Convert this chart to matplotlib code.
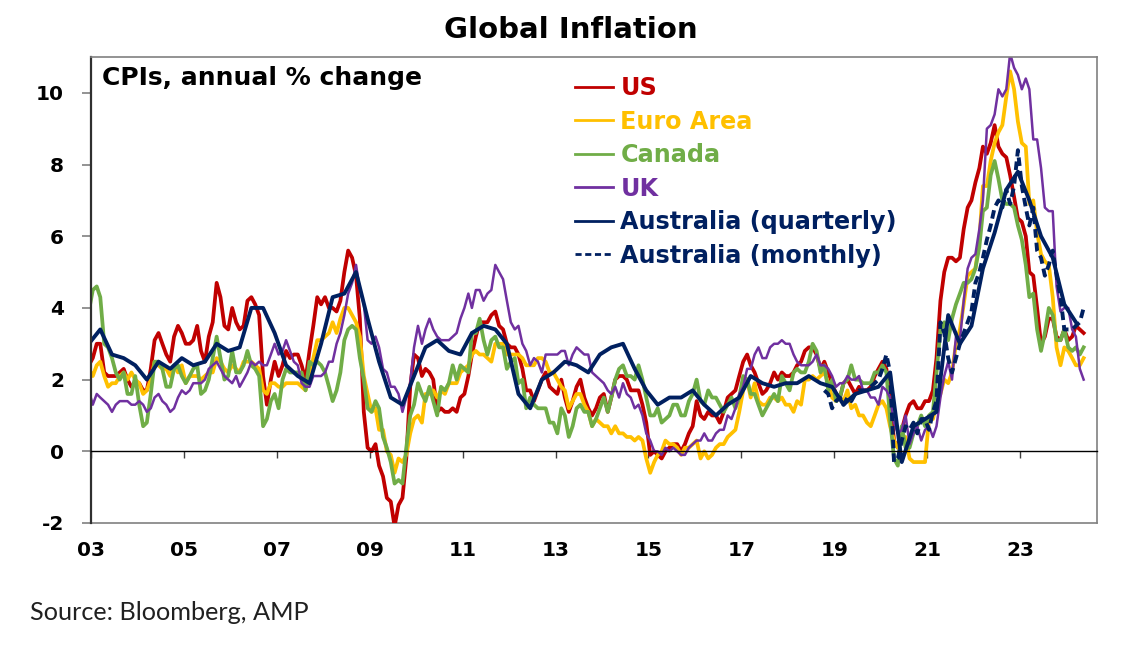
import numpy as np
import pandas as pd
import matplotlib
matplotlib.use('Agg')
import matplotlib.pyplot as plt
import matplotlib.dates as mdates

plt.rcParams['axes.unicode_minus'] = False

# CPI, annual % change. Monthly series run Dec 2002 - May 2024
us_cpi = [2.4,
    2.6, 3.0, 3.0, 2.2, 2.1, 2.1, 2.1, 2.2, 2.3, 2.0, 1.8, 1.9,
    1.9, 1.7, 1.7, 2.3, 3.1, 3.3, 3.0, 2.7, 2.5, 3.2, 3.5, 3.3,
    3.0, 3.0, 3.1, 3.5, 2.8, 2.5, 3.2, 3.6, 4.7, 4.3, 3.5, 3.4,
    4.0, 3.6, 3.4, 3.5, 4.2, 4.3, 4.1, 3.8, 2.1, 1.3, 2.0, 2.5,
    2.1, 2.4, 2.8, 2.6, 2.7, 2.7, 2.4, 2.0, 2.8, 3.5, 4.3, 4.1,
    4.3, 4.0, 4.0, 3.9, 4.2, 5.0, 5.6, 5.4, 4.9, 3.7, 1.1, 0.1,
    0.0, 0.2, -0.4, -0.7, -1.3, -1.4, -2.1, -1.5, -1.3, -0.2, 1.8, 2.7,
    2.6, 2.1, 2.3, 2.2, 2.0, 1.1, 1.2, 1.1, 1.1, 1.2, 1.1, 1.5,
    1.6, 2.1, 2.7, 3.2, 3.6, 3.6, 3.6, 3.8, 3.9, 3.5, 3.4, 3.0,
    2.9, 2.9, 2.7, 2.3, 1.7, 1.7, 1.4, 1.7, 2.0, 2.2, 1.8, 1.7,
    1.6, 2.0, 1.5, 1.1, 1.4, 1.8, 2.0, 1.5, 1.2, 1.0, 1.2, 1.5,
    1.6, 1.1, 1.5, 2.0, 2.1, 2.1, 2.0, 1.7, 1.7, 1.7, 1.3, 0.8,
    -0.1, 0.0, -0.1, -0.2, 0.0, 0.1, 0.2, 0.2, 0.0, 0.2, 0.5, 0.7,
    1.4, 1.0, 0.9, 1.1, 1.0, 1.0, 0.8, 1.1, 1.5, 1.6, 1.7, 2.1,
    2.5, 2.7, 2.4, 2.2, 1.9, 1.6, 1.7, 1.9, 2.2, 2.0, 2.2, 2.1,
    2.1, 2.2, 2.4, 2.5, 2.8, 2.9, 2.9, 2.7, 2.3, 2.5, 2.2, 1.9,
    1.6, 1.5, 1.9, 2.0, 1.8, 1.6, 1.8, 1.7, 1.7, 1.8, 2.1, 2.3,
    2.5, 2.3, 1.5, 0.3, 0.1, 0.6, 1.0, 1.3, 1.4, 1.2, 1.2, 1.4,
    1.4, 1.7, 2.6, 4.2, 5.0, 5.4, 5.4, 5.3, 5.4, 6.2, 6.8, 7.0,
    7.5, 7.9, 8.5, 8.3, 8.6, 9.1, 8.5, 8.3, 8.2, 7.7, 7.1, 6.5,
    6.4, 6.0, 5.0, 4.9, 4.0, 3.0, 3.2, 3.7, 3.7, 3.2, 3.1, 3.4,
    3.1, 3.2, 3.5, 3.4, 3.3]

euro_cpi = [2.3,
    2.1, 2.4, 2.5, 2.1, 1.8, 1.9, 1.9, 2.1, 2.2, 2.0, 2.2, 2.0,
    1.9, 1.6, 1.7, 2.0, 2.5, 2.4, 2.3, 2.3, 2.1, 2.4, 2.2, 2.4,
    1.9, 2.1, 2.1, 2.1, 2.0, 2.1, 2.2, 2.2, 2.6, 2.5, 2.3, 2.2,
    2.4, 2.3, 2.2, 2.5, 2.5, 2.5, 2.4, 2.3, 1.7, 1.6, 1.9, 1.9,
    1.8, 1.8, 1.9, 1.9, 1.9, 1.9, 1.8, 1.7, 2.1, 2.6, 3.1, 3.1,
    3.2, 3.3, 3.6, 3.3, 3.7, 4.0, 4.0, 3.8, 3.6, 3.2, 2.1, 1.6,
    1.1, 1.2, 0.6, 0.6, 0.0, -0.1, -0.6, -0.2, -0.3, -0.1, 0.5, 0.9,
    1.0, 0.8, 1.6, 1.6, 1.7, 1.5, 1.7, 1.6, 1.9, 1.9, 1.9, 2.2,
    2.3, 2.4, 2.7, 2.8, 2.7, 2.7, 2.6, 2.5, 3.0, 3.0, 3.0, 2.7,
    2.7, 2.7, 2.7, 2.6, 2.4, 2.4, 2.4, 2.6, 2.6, 2.5, 2.2, 2.2,
    2.0, 1.8, 1.7, 1.2, 1.4, 1.6, 1.6, 1.3, 1.1, 0.7, 0.9, 0.8,
    0.7, 0.7, 0.5, 0.7, 0.5, 0.5, 0.4, 0.4, 0.3, 0.4, 0.3, -0.2,
    -0.6, -0.3, -0.1, 0.0, 0.3, 0.2, 0.2, 0.1, -0.1, 0.1, 0.1, 0.2,
    0.3, -0.2, 0.0, -0.2, -0.1, 0.1, 0.2, 0.2, 0.4, 0.5, 0.6, 1.1,
    1.7, 2.0, 1.5, 1.9, 1.4, 1.3, 1.3, 1.5, 1.5, 1.4, 1.5, 1.3,
    1.3, 1.1, 1.4, 1.3, 2.0, 2.0, 2.1, 2.0, 2.1, 2.2, 1.9, 1.5,
    1.4, 1.5, 1.4, 1.7, 1.2, 1.3, 1.0, 1.0, 0.8, 0.7, 1.0, 1.3,
    1.4, 1.2, 0.7, 0.3, 0.1, 0.3, 0.4, -0.2, -0.3, -0.3, -0.3, -0.3,
    0.9, 0.9, 1.3, 1.6, 2.0, 1.9, 2.2, 3.0, 3.4, 4.1, 4.9, 5.0,
    5.1, 5.9, 7.4, 7.4, 8.1, 8.6, 8.9, 9.1, 9.9, 10.6, 10.1, 9.2,
    8.6, 8.5, 6.9, 7.0, 6.1, 5.5, 5.3, 5.2, 4.3, 2.9, 2.4, 2.9,
    2.8, 2.6, 2.4, 2.4, 2.6]

canada_cpi = [3.9,
    4.5, 4.6, 4.3, 3.0, 2.9, 2.6, 2.2, 2.0, 2.2, 1.6, 1.6, 2.1,
    1.3, 0.7, 0.8, 1.6, 2.5, 2.5, 2.3, 1.8, 1.8, 2.3, 2.4, 2.1,
    1.9, 2.1, 2.3, 2.4, 1.6, 1.7, 2.0, 2.6, 3.2, 2.6, 2.0, 2.1,
    2.8, 2.2, 2.2, 2.4, 2.8, 2.4, 2.3, 2.1, 0.7, 0.9, 1.4, 1.6,
    1.2, 2.0, 2.3, 2.2, 2.2, 2.2, 2.2, 1.7, 2.5, 2.4, 2.5, 2.4,
    2.2, 1.8, 1.4, 1.7, 2.2, 3.1, 3.4, 3.5, 3.4, 2.6, 2.0, 1.2,
    1.1, 1.4, 1.2, 0.4, 0.1, -0.3, -0.9, -0.8, -0.9, 0.1, 1.0, 1.3,
    1.9, 1.6, 1.4, 1.8, 1.4, 1.0, 1.8, 1.7, 1.9, 2.4, 2.0, 2.4,
    2.3, 2.2, 3.3, 3.3, 3.7, 3.1, 2.7, 3.1, 3.2, 2.9, 2.9, 2.3,
    2.5, 2.6, 1.9, 2.0, 1.2, 1.5, 1.3, 1.2, 1.2, 1.2, 0.8, 0.8,
    0.5, 1.2, 1.0, 0.4, 0.7, 1.2, 1.3, 1.1, 1.1, 0.7, 0.9, 1.2,
    1.5, 1.1, 1.5, 2.0, 2.3, 2.4, 2.1, 2.1, 2.0, 2.4, 2.0, 1.5,
    1.0, 1.0, 1.2, 0.8, 0.9, 1.0, 1.3, 1.3, 1.0, 1.0, 1.4, 1.6,
    2.0, 1.4, 1.3, 1.7, 1.5, 1.5, 1.3, 1.1, 1.3, 1.5, 1.2, 1.5,
    2.1, 2.0, 1.6, 1.6, 1.3, 1.0, 1.2, 1.4, 1.6, 1.4, 2.1, 1.9,
    1.7, 2.2, 2.3, 2.2, 2.2, 2.5, 3.0, 2.8, 2.2, 2.4, 1.7, 2.0,
    1.4, 1.5, 1.9, 2.0, 2.4, 2.0, 2.0, 1.9, 1.9, 1.9, 2.2, 2.2,
    2.4, 2.2, 0.9, -0.2, -0.4, 0.7, 0.1, 0.1, 0.5, 0.7, 1.0, 0.7,
    1.0, 1.1, 2.2, 3.4, 3.6, 3.1, 3.7, 4.1, 4.4, 4.7, 4.7, 4.8,
    5.1, 5.7, 6.7, 6.8, 7.7, 8.1, 7.6, 7.0, 6.9, 6.9, 6.8, 6.3,
    5.9, 5.2, 4.3, 4.4, 3.4, 2.8, 3.3, 4.0, 3.8, 3.1, 3.1, 3.4,
    2.9, 2.8, 2.9, 2.7, 2.9]

uk_cpi = [1.7,
    1.3, 1.6, 1.5, 1.4, 1.3, 1.1, 1.3, 1.4, 1.4, 1.4, 1.3, 1.3,
    1.4, 1.3, 1.1, 1.2, 1.5, 1.6, 1.4, 1.3, 1.1, 1.2, 1.5, 1.7,
    1.6, 1.7, 1.9, 1.9, 1.9, 2.0, 2.3, 2.4, 2.5, 2.3, 2.1, 2.0,
    1.9, 2.1, 1.8, 2.0, 2.2, 2.5, 2.4, 2.5, 2.4, 2.4, 2.7, 3.0,
    2.7, 2.8, 3.1, 2.8, 2.5, 2.4, 1.9, 1.8, 1.8, 2.1, 2.1, 2.1,
    2.2, 2.5, 2.5, 3.0, 3.3, 3.8, 4.4, 4.7, 5.2, 4.5, 4.1, 3.1,
    3.0, 3.2, 2.9, 2.3, 2.2, 1.8, 1.8, 1.6, 1.1, 1.5, 1.9, 2.9,
    3.5, 3.0, 3.4, 3.7, 3.4, 3.2, 3.1, 3.1, 3.1, 3.2, 3.3, 3.7,
    4.0, 4.4, 4.0, 4.5, 4.5, 4.2, 4.4, 4.5, 5.2, 5.0, 4.8, 4.2,
    3.6, 3.4, 3.5, 3.0, 2.8, 2.4, 2.6, 2.5, 2.2, 2.7, 2.7, 2.7,
    2.7, 2.8, 2.8, 2.4, 2.7, 2.9, 2.8, 2.7, 2.7, 2.2, 2.1, 2.0,
    1.9, 1.7, 1.6, 1.8, 1.5, 1.9, 1.6, 1.5, 1.2, 1.3, 1.0, 0.5,
    0.3, 0.0, 0.0, -0.1, 0.1, 0.0, 0.1, 0.0, -0.1, -0.1, 0.1, 0.2,
    0.3, 0.3, 0.5, 0.3, 0.3, 0.5, 0.6, 0.6, 1.0, 0.9, 1.2, 1.6,
    1.8, 2.3, 2.3, 2.7, 2.9, 2.6, 2.6, 2.9, 3.0, 3.0, 3.1, 3.0,
    3.0, 2.7, 2.5, 2.4, 2.4, 2.4, 2.5, 2.7, 2.4, 2.4, 2.3, 2.1,
    1.8, 1.9, 1.9, 2.1, 2.0, 2.0, 2.1, 1.7, 1.7, 1.5, 1.5, 1.3,
    1.8, 1.7, 1.5, 0.8, 0.5, 0.6, 1.0, 0.2, 0.5, 0.7, 0.3, 0.6,
    0.7, 0.4, 0.7, 1.5, 2.1, 2.5, 2.0, 3.2, 3.1, 4.2, 5.1, 5.4,
    5.5, 6.2, 7.0, 9.0, 9.1, 9.4, 10.1, 9.9, 10.1, 11.1, 10.7, 10.5,
    10.1, 10.4, 10.1, 8.7, 8.7, 7.9, 6.8, 6.7, 6.7, 4.6, 3.9, 4.0,
    4.0, 3.4, 3.2, 2.3, 2.0]

# Australia quarterly, Dec qtr 2002 - Mar qtr 2024
aus_q_cpi = [3.0,
    3.4, 2.7, 2.6, 2.4,
    2.0, 2.5, 2.3, 2.6,
    2.4, 2.5, 3.0, 2.8,
    2.9, 4.0, 4.0, 3.3,
    2.4, 2.1, 1.9, 3.0,
    4.3, 4.4, 5.0, 3.7,
    2.5, 1.5, 1.3, 2.1,
    2.9, 3.1, 2.8, 2.7,
    3.3, 3.5, 3.4, 3.0,
    1.6, 1.2, 2.0, 2.2,
    2.5, 2.4, 2.2, 2.7,
    2.9, 3.0, 2.3, 1.7,
    1.3, 1.5, 1.5, 1.7,
    1.3, 1.0, 1.3, 1.5,
    2.1, 1.9, 1.8, 1.9,
    1.9, 2.1, 1.9, 1.8,
    1.3, 1.6, 1.7, 1.8,
    2.2, -0.3, 0.7, 0.9,
    1.1, 3.8, 3.0, 3.5,
    5.1, 6.1, 7.3, 7.8,
    7.0, 6.0, 5.4, 4.1,
    3.6]

# Australia monthly CPI indicator, Oct 2018 - May 2024
aus_m_cpi = [1.7, 1.6, 1.2,
    1.4, 1.5, 1.3, 1.5, 1.4, 1.6, 1.7, 1.7, 1.7, 1.8, 1.9, 2.0,
    2.3, 2.7, 2.2, -0.3, -0.2, 0.3, 0.7, 0.6, 0.8, 0.5, 0.9, 0.9,
    0.6, 1.1, 1.4, 3.6, 3.3, 2.6, 2.2, 2.6, 3.0, 3.3, 3.6, 3.9,
    4.7, 5.0, 5.4, 5.9, 6.3, 6.8, 7.0, 6.8, 7.3, 6.9, 7.4, 8.4,
    7.4, 6.8, 6.3, 6.8, 5.6, 5.4, 4.9, 5.2, 5.6, 4.9, 4.3, 3.4,
    3.4, 3.4, 3.5, 3.6, 4.0]

# plotted at the middle of each month
monthly_dates = pd.date_range('2002-12-01', periods=len(us_cpi), freq='MS') + pd.Timedelta(days=14)
quarterly_dates = pd.date_range('2002-12-01', periods=len(aus_q_cpi), freq='3MS') + pd.Timedelta(days=14)
aus_m_dates = pd.date_range('2018-10-01', periods=len(aus_m_cpi), freq='MS') + pd.Timedelta(days=14)

RED, YELLOW, GREEN, PURPLE, NAVY = '#C00000', '#FFC000', '#70AD47', '#7030A0', '#002060'
FONT = 'DejaVu Sans'

fig = plt.figure(figsize=(11.3, 6.49), dpi=100)
ax = fig.add_axes([91 / 1130, 1 - 523 / 649, (1097 - 91) / 1130, (523 - 57) / 649])

ax.plot(monthly_dates, us_cpi, color=RED, lw=2.7, label='US')
ax.plot(monthly_dates, euro_cpi, color=YELLOW, lw=2.7, label='Euro Area')
ax.plot(monthly_dates, canada_cpi, color=GREEN, lw=2.7, label='Canada')
ax.plot(monthly_dates, uk_cpi, color=PURPLE, lw=1.8, label='UK')
ax.plot(quarterly_dates, aus_q_cpi, color=NAVY, lw=2.8, label='Australia (quarterly)')
ax.plot(aus_m_dates, aus_m_cpi, color=NAVY, lw=2.8, ls=(0, (2.2, 1.3)),
        label='Australia (monthly)')

ax.set_ylim(-2, 11)
ax.set_xlim(pd.Timestamp('2003-01-01'), pd.Timestamp('2024-08-28'))
ax.set_yticks(np.arange(-2, 11, 2))

year_ticks = [pd.Timestamp(f'{y}-01-01') for y in range(2003, 2025, 2)]
tick_nums = mdates.date2num(year_ticks)

# category axis sits on the zero line, labels at the bottom of the frame
ax.spines['bottom'].set_position(('data', 0))
ax.spines['bottom'].set_color('black')
ax.spines['bottom'].set_linewidth(1.0)
ax.set_xticks(tick_nums)
ax.tick_params(axis='x', direction='out', length=5, width=1, color='#404040',
               labelbottom=False)

sec = ax.secondary_xaxis('bottom')
sec.set_xticks(tick_nums, [d.strftime('%y') for d in year_ticks])
sec.tick_params(length=0, pad=13)
sec.spines['bottom'].set_color('#808080')
sec.spines['bottom'].set_linewidth(1.2)
for lab in sec.get_xticklabels():
    lab.set_fontfamily(FONT)
    lab.set_fontweight('bold')
    lab.set_fontsize(14.5)

ax.spines['left'].set_color('#303030')
ax.spines['left'].set_linewidth(1.6)
for side in ['top', 'right']:
    ax.spines[side].set_color('#808080')
    ax.spines[side].set_linewidth(1.2)
ax.tick_params(axis='y', direction='out', length=6.5, width=1.2, color='#808080', pad=13)
for lab in ax.get_yticklabels():
    lab.set_fontfamily(FONT)
    lab.set_fontweight('bold')
    lab.set_fontsize(14.5)

leg = ax.legend(loc='upper left', bbox_to_anchor=(575 / 1130, 1 - 76 / 649),
                bbox_transform=fig.transFigure, frameon=False, borderpad=0,
                borderaxespad=0, handlelength=1.6, handletextpad=0.3,
                labelspacing=0.4, labelcolor='linecolor',
                prop={'family': FONT, 'weight': 'bold', 'size': 17.2})
for line in leg.get_lines():
    line.set_linewidth(2.0)

fig.text(571 / 1130, 1 - 30 / 649, 'Global Inflation', ha='center', va='center',
         fontsize=21, fontweight='bold', family=FONT)
fig.text(102 / 1130, 1 - 78 / 649, 'CPIs, annual % change', ha='left', va='center',
         fontsize=18, fontweight='bold', family=FONT)
fig.text(30 / 1130, 1 - 613 / 649, 'Source: Bloomberg, AMP', ha='left', va='center',
         fontsize=18.2, family='Lato', color='#202020')

fig.savefig('out.png', dpi=100)
